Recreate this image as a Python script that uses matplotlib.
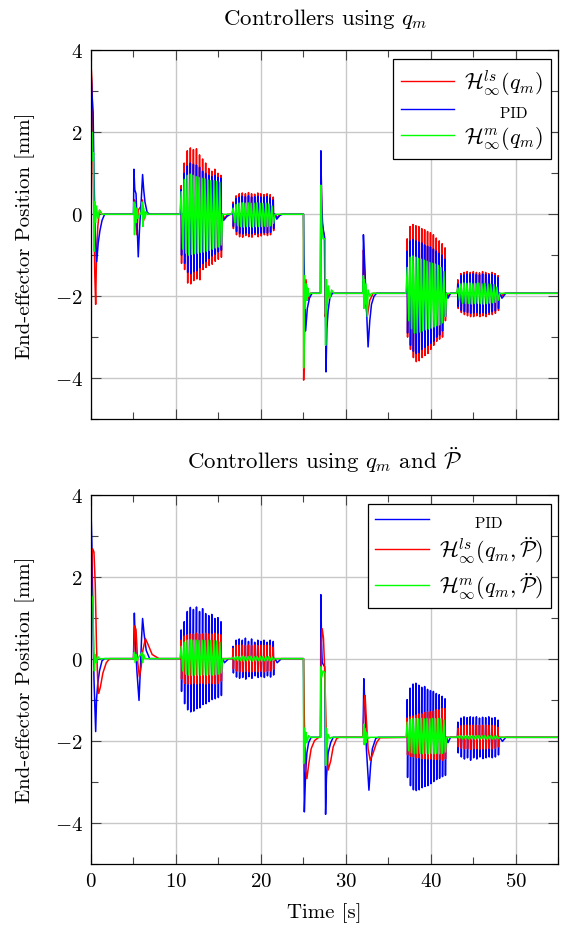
"""
Reproduction of the end-effector position comparison (two panels).
Values read by eye from the reference figure.
"""

import numpy as np
import matplotlib
matplotlib.use("Agg")
import matplotlib.pyplot as plt
from matplotlib.ticker import MultipleLocator

plt.rcParams["font.family"] = "serif"
plt.rcParams["font.serif"] = ["cmr10", "DejaVu Serif"]
plt.rcParams["mathtext.fontset"] = "cm"
plt.rcParams["axes.formatter.use_mathtext"] = True
plt.rcParams["axes.unicode_minus"] = True

# ---------------------------------------------------------------- data
# oscillation bursts : time windows (s) and offset level (mm)
BURST_T = [(10.45, 15.5), (16.55, 21.65), (37.05, 41.85), (43.0, 48.1)]
TOP_BASE = [0.0, 0.0, -1.93, -1.93]
BOT_BASE = [0.0, 0.0, -1.92, -1.92]

# ---- top panel : controllers using q_m
TOP_RED_PTS = [
    (0, 0), (0.03, 3.55), (0.12, 3.2), (0.2, 2.0), (0.3, 0.5), (0.45, -1.5),
    (0.55, -2.2), (0.65, -1.0), (0.8, -0.3), (1.0, 0.1), (1.3, 0.0),
    (5.05, 0), (5.12, 0.35), (5.25, -0.2), (5.4, -0.5), (5.55, 0.1),
    (5.9, 0.2), (6.05, 0.35), (6.2, -0.15), (6.4, 0.05), (6.7, 0),
    (15.7, -0.1), (16.1, 0), (21.9, -0.08), (22.3, 0),
    (25.0, 0), (25.02, -4.05), (25.15, -2.5), (25.3, -1.6), (25.5, -2.1),
    (25.8, -1.93), (27.0, -1.93), (27.05, 1.3), (27.15, 0.2), (27.3, -0.4),
    (27.45, -0.5), (27.55, -2.5), (27.7, -2.3), (27.9, -1.95), (28.2, -1.93),
    (32.0, -1.93), (32.05, -0.88), (32.2, -1.4), (32.35, -2.2), (32.5, -2.5),
    (32.8, -2.1), (33.2, -1.93),
    (42.0, -2.0), (42.3, -1.93), (48.3, -2.0), (48.6, -1.93), (55, -1.93),
]
TOP_RED_BURSTS = [
    ([0.70, 1.25, 1.55, 1.62, 1.58, 1.60, 1.45, 1.35, 1.25, 1.12, 1.05, 1.10, 1.00, 0.95],
     [-1.20, -1.35, -1.68, -1.70, -1.62, -1.58, -1.60, -1.35, -1.30, -1.25, -1.22, -1.15, -1.10, -1.05]),
    ([0.30, 0.45, 0.50, 0.52, 0.50, 0.53, 0.50, 0.49, 0.52, 0.50, 0.48, 0.50, 0.48, 0.42],
     [-0.35, -0.50, -0.55, -0.56, -0.52, -0.55, -0.56, -0.50, -0.55, -0.53, -0.50, -0.52, -0.50, -0.40]),
    ([-0.60, -0.30, -0.25, -0.28, -0.30, -0.35, -0.38, -0.42, -0.45, -0.50, -0.58, -0.65, -0.72, -0.82],
     [-3.00, -3.30, -3.50, -3.60, -3.58, -3.50, -3.45, -3.40, -3.30, -3.20, -3.10, -3.05, -3.00, -2.60]),
    ([-1.60, -1.45, -1.42, -1.40, -1.42, -1.40, -1.42, -1.43, -1.40, -1.42, -1.45, -1.42, -1.45, -1.50],
     [-2.30, -2.40, -2.45, -2.48, -2.50, -2.50, -2.48, -2.50, -2.48, -2.50, -2.45, -2.45, -2.42, -2.35]),
]

TOP_BLUE_PTS = [
    (0, 0), (0.03, 3.35), (0.1, 3.0), (0.25, 2.5), (0.35, 1.0), (0.5, -0.5),
    (0.67, -1.16), (0.85, -0.7), (1.05, -0.4), (1.3, -0.15), (1.6, 0),
    (5.0, 0), (5.05, 1.1), (5.15, 0.6), (5.3, 0.5), (5.45, -0.4), (5.56, -1.04),
    (5.7, -0.4), (5.9, 0.3), (6.07, 0.97), (6.2, 0.6), (6.35, 0.3), (6.6, 0.05),
    (6.9, 0),
    (15.6, -0.15), (16.0, -0.05), (16.4, 0), (21.85, -0.12), (22.2, -0.03),
    (22.5, 0),
    (25.0, 0), (25.05, -1.0), (25.25, -2.85), (25.45, -2.3), (25.7, -2.05),
    (26.0, -1.93), (27.0, -1.93), (27.05, 1.55), (27.12, 0.5), (27.2, -0.2),
    (27.5, -0.6), (27.65, -3.85), (27.75, -2.8), (27.9, -2.35), (28.1, -2.05),
    (28.4, -1.93),
    (32.0, -1.93), (32.05, -0.5), (32.2, -1.2), (32.35, -2.0), (32.6, -3.24),
    (32.8, -2.6), (33.0, -2.2), (33.3, -2.0), (33.6, -1.93),
    (42.0, -2.05), (42.3, -1.93), (48.35, -2.05), (48.8, -1.93), (55, -1.93),
]
TOP_BLUE_BURSTS = [
    ([0.60, 1.00, 1.18, 1.25, 1.22, 1.20, 1.15, 1.05, 1.00, 0.95, 0.92, 0.95, 0.90, 0.88],
     [-1.00, -1.20, -1.42, -1.45, -1.40, -1.38, -1.30, -1.20, -1.15, -1.08, -1.02, -0.98, -0.92, -0.88]),
    ([0.25, 0.38, 0.42, 0.44, 0.43, 0.45, 0.42, 0.43, 0.44, 0.42, 0.42, 0.43, 0.40, 0.35],
     [-0.30, -0.42, -0.47, -0.48, -0.46, -0.47, -0.48, -0.45, -0.47, -0.46, -0.45, -0.46, -0.44, -0.35]),
    ([-0.90, -0.65, -0.62, -0.65, -0.68, -0.70, -0.75, -0.78, -0.80, -0.85, -0.90, -0.95, -1.00, -1.10],
     [-2.90, -3.20, -3.35, -3.40, -3.38, -3.30, -3.25, -3.20, -3.15, -3.10, -3.00, -2.95, -2.85, -2.50]),
    ([-1.70, -1.50, -1.48, -1.46, -1.47, -1.45, -1.47, -1.48, -1.46, -1.47, -1.48, -1.47, -1.50, -1.55],
     [-2.25, -2.35, -2.38, -2.40, -2.42, -2.41, -2.40, -2.42, -2.40, -2.42, -2.40, -2.38, -2.36, -2.30]),
]

TOP_GREEN_PTS = [
    (0, 0), (0.02, 2.6), (0.08, 1.4), (0.15, 2.0), (0.22, 1.3), (0.3, 1.5),
    (0.38, -0.9), (0.45, 0.3), (0.55, -0.2), (0.65, 0.2), (0.8, -0.1),
    (1.0, 0.1), (1.3, 0),
    (5.0, 0), (5.05, 0.3), (5.12, -0.5), (5.2, 0.25), (5.3, -0.2), (5.4, 0.15),
    (5.5, -0.1), (5.9, 0.05), (6.0, 0.3), (6.1, -0.3), (6.2, 0.15),
    (6.35, -0.1), (6.5, 0.05), (6.7, 0),
    (25.0, 0), (25.02, -3.75), (25.1, -1.5), (25.2, -2.3), (25.3, -1.7),
    (25.4, -2.1), (25.5, -1.8), (25.6, -2.0), (25.8, -1.93), (27.0, -1.93),
    (27.05, 0.71), (27.15, -0.3), (27.3, -0.6), (27.55, -0.6), (27.6, -3.2),
    (27.7, -1.6), (27.8, -2.2), (27.95, -1.75), (28.1, -2.05), (28.3, -1.85),
    (28.6, -1.93),
    (32.0, -1.93), (32.05, -1.5), (32.1, -2.3), (32.15, -1.6), (32.25, -2.2),
    (32.35, -1.7), (32.5, -2.5), (32.6, -1.85), (32.8, -2.0), (33.0, -1.93),
    (55, -1.93),
]
TOP_GREEN_BURSTS = [
    ([0.55, 0.85, 0.95, 0.98, 0.95, 0.92, 0.90, 0.88, 0.86, 0.84, 0.82, 0.82, 0.80, 0.78],
     [-0.85, -0.95, -1.00, -0.98, -0.96, -0.95, -0.93, -0.92, -0.90, -0.88, -0.85, -0.82, -0.80, -0.75]),
    ([0.15, 0.24, 0.27, 0.28, 0.27, 0.28, 0.27, 0.27, 0.28, 0.27, 0.26, 0.27, 0.25, 0.20],
     [-0.20, -0.28, -0.30, -0.31, -0.30, -0.30, -0.31, -0.30, -0.30, -0.30, -0.29, -0.30, -0.28, -0.22]),
    ([-1.30, -1.05, -1.02, -1.05, -1.08, -1.10, -1.12, -1.15, -1.18, -1.20, -1.22, -1.25, -1.30, -1.40],
     [-2.60, -2.80, -2.90, -2.90, -2.88, -2.85, -2.82, -2.80, -2.78, -2.75, -2.72, -2.70, -2.65, -2.50]),
    ([-1.80, -1.70, -1.68, -1.69, -1.68, -1.70, -1.69, -1.68, -1.70, -1.69, -1.70, -1.71, -1.72, -1.78],
     [-2.10, -2.17, -2.18, -2.18, -2.19, -2.18, -2.17, -2.18, -2.19, -2.18, -2.17, -2.16, -2.15, -2.10]),
]

# ---- bottom panel : controllers using q_m and P''
BOT_BLUE_PTS = [
    (0, 0), (0.03, 3.37), (0.1, 2.8), (0.2, 1.5), (0.35, -0.5), (0.55, -1.78),
    (0.65, -1.0), (0.8, -0.6), (1.0, -0.3), (1.3, -0.05), (1.6, 0),
    (5.0, 0), (5.1, 1.11), (5.2, 0.5), (5.4, -0.3), (5.65, -1.02), (5.8, -0.3),
    (5.95, 0.5), (6.07, 0.98), (6.25, 0.6), (6.5, 0.2), (6.9, 0),
    (15.7, -0.1), (16.2, 0), (21.9, -0.1), (22.4, 0),
    (25.0, 0), (25.02, -1.0), (25.1, -3.74), (25.25, -2.8), (25.4, -2.3),
    (25.6, -2.05), (25.9, -1.92), (27.0, -1.92), (27.05, 1.56), (27.12, 0.4),
    (27.2, -0.1), (27.5, -0.2), (27.6, -3.8), (27.7, -2.9), (27.9, -2.3),
    (28.2, -2.05), (28.5, -1.92),
    (32.0, -1.92), (32.1, -0.49), (32.2, -1.0), (32.4, -2.2), (32.7, -3.21),
    (32.9, -2.6), (33.1, -2.2), (33.5, -1.95), (33.8, -1.92),
    (42.0, -2.05), (42.3, -1.92), (48.4, -2.02), (48.8, -1.92), (55, -1.92),
]
BOT_BLUE_BURSTS = [
    ([0.70, 0.90, 1.15, 1.25, 1.20, 1.26, 1.15, 1.22, 1.10, 1.05, 1.08, 0.98, 1.00, 0.90],
     [-0.80, -1.10, -1.25, -1.30, -1.28, -1.22, -1.20, -1.12, -1.10, -1.05, -1.00, -0.98, -0.95, -0.90]),
    ([0.30, 0.45, 0.48, 0.45, 0.50, 0.42, 0.48, 0.40, 0.45, 0.42, 0.45, 0.40, 0.45, 0.42],
     [-0.35, -0.45, -0.48, -0.46, -0.50, -0.44, -0.48, -0.42, -0.46, -0.44, -0.46, -0.42, -0.45, -0.40]),
    ([-1.00, -0.72, -0.62, -0.60, -0.65, -0.70, -0.68, -0.75, -0.78, -0.80, -0.85, -0.88, -0.92, -0.98],
     [-2.90, -3.10, -3.20, -3.22, -3.20, -3.15, -3.12, -3.10, -3.05, -3.00, -2.95, -2.92, -2.88, -2.85]),
    ([-1.55, -1.45, -1.42, -1.44, -1.42, -1.43, -1.42, -1.45, -1.43, -1.44, -1.42, -1.45, -1.44, -1.50],
     [-2.30, -2.40, -2.45, -2.42, -2.48, -2.42, -2.45, -2.40, -2.44, -2.42, -2.40, -2.42, -2.40, -2.35]),
]

BOT_RED_PTS = [
    (0, 0), (0.05, 1.5), (0.12, 2.5), (0.2, 2.68), (0.35, 2.6), (0.5, 1.8),
    (0.65, 0.3), (0.8, -0.6), (0.9, -0.85), (1.1, -0.7), (1.4, -0.35),
    (1.8, -0.1), (2.2, 0),
    (5.0, 0), (5.15, 0.8), (5.3, 0.7), (5.5, -0.1), (5.7, -0.45), (5.9, -0.2),
    (6.1, 0.2), (6.4, 0.49), (6.7, 0.35), (7.2, 0.1), (8.0, 0),
    (25.0, 0), (25.1, -1.5), (25.25, -2.7), (25.4, -2.93), (25.6, -2.6),
    (25.9, -2.2), (26.3, -2.0), (26.8, -1.92), (27.0, -1.92), (27.1, 0.4),
    (27.2, 0.73), (27.35, 0.5), (27.5, -0.3), (27.7, -2.0), (27.9, -2.72),
    (28.2, -2.5), (28.5, -2.15), (28.9, -1.95), (29.2, -1.92),
    (32.0, -1.92), (32.15, -1.0), (32.25, -0.9), (32.4, -1.5), (32.6, -2.2),
    (32.85, -2.48), (33.2, -2.3), (33.6, -2.05), (34.0, -1.93), (55, -1.92),
]
BOT_RED_BURSTS = [
    ([0.45, 0.55, 0.58, 0.60, 0.60, 0.62, 0.60, 0.60, 0.62, 0.60, 0.60, 0.62, 0.60, 0.58],
     [-0.50, -0.60, -0.62, -0.62, -0.60, -0.62, -0.60, -0.60, -0.62, -0.60, -0.60, -0.62, -0.60, -0.55]),
    ([0.25, 0.32, 0.33, 0.33, 0.32, 0.33, 0.32, 0.33, 0.32, 0.33, 0.32, 0.33, 0.32, 0.28],
     [-0.25, -0.30, -0.32, -0.32, -0.31, -0.32, -0.32, -0.31, -0.32, -0.31, -0.32, -0.31, -0.30, -0.26]),
    ([-1.45, -1.42, -1.40, -1.38, -1.35, -1.35, -1.32, -1.30, -1.30, -1.28, -1.25, -1.25, -1.22, -1.22],
     [-2.35, -2.38, -2.40, -2.42, -2.42, -2.44, -2.44, -2.45, -2.45, -2.46, -2.46, -2.46, -2.48, -2.45]),
    ([-1.70, -1.64, -1.63, -1.62, -1.63, -1.62, -1.63, -1.62, -1.63, -1.62, -1.63, -1.63, -1.64, -1.68],
     [-2.15, -2.19, -2.20, -2.20, -2.21, -2.20, -2.20, -2.21, -2.20, -2.20, -2.19, -2.20, -2.19, -2.15]),
]

BOT_GREEN_PTS = [
    (0, 0), (0.03, 1.8), (0.1, 1.4), (0.2, 1.5), (0.3, 0.5), (0.4, -0.3),
    (0.5, 0.1), (0.6, -0.1), (0.8, 0.05), (1.0, 0),
    (5.0, 0), (5.1, 0.15), (5.2, -0.1), (5.3, 0.1), (5.4, -0.05), (5.5, 0),
    (6.0, 0.15), (6.1, -0.1), (6.2, 0.1), (6.35, 0),
    (25.0, 0), (25.02, -2.56), (25.1, -1.7), (25.2, -2.15), (25.3, -1.8),
    (25.4, -2.05), (25.6, -1.88), (25.8, -1.92), (27.0, -1.92), (27.05, -0.2),
    (27.15, -0.45), (27.3, -0.3), (27.55, -0.35), (27.6, -2.6), (27.7, -1.7),
    (27.8, -2.1), (27.9, -1.85), (28.1, -1.95), (28.3, -1.92),
    (32.0, -1.92), (32.1, -1.6), (32.15, -2.1), (32.25, -1.7), (32.35, -2.05),
    (32.45, -1.8), (32.6, -1.95), (32.8, -1.92), (55, -1.92),
]
BOT_GREEN_BURSTS = [
    ([0.30, 0.40, 0.45, 0.46, 0.45, 0.45, 0.44, 0.45, 0.44, 0.45, 0.44, 0.44, 0.43, 0.40],
     [-0.30, -0.38, -0.40, -0.41, -0.40, -0.40, -0.40, -0.39, -0.40, -0.39, -0.40, -0.39, -0.38, -0.35]),
    ([0.03, 0.05, 0.05, 0.06, 0.05, 0.05, 0.06, 0.05, 0.05, 0.06, 0.05, 0.05, 0.05, 0.04],
     [-0.03, -0.05, -0.05, -0.06, -0.05, -0.05, -0.06, -0.05, -0.05, -0.06, -0.05, -0.05, -0.05, -0.04]),
    ([-1.55, -1.48, -1.46, -1.46, -1.47, -1.46, -1.47, -1.46, -1.47, -1.46, -1.47, -1.46, -1.47, -1.50],
     [-2.25, -2.30, -2.32, -2.32, -2.31, -2.32, -2.31, -2.32, -2.31, -2.32, -2.31, -2.32, -2.31, -2.28]),
    ([-1.89, -1.88, -1.88, -1.88, -1.88, -1.88, -1.88, -1.88, -1.88, -1.88, -1.88, -1.88, -1.88, -1.89],
     [-1.95, -1.96, -1.96, -1.96, -1.96, -1.96, -1.96, -1.96, -1.96, -1.96, -1.96, -1.96, -1.96, -1.95]),
]

LBL_TOP = [r"$\mathcal{H}_\infty^{ls}(q_m)$", "PID", r"$\mathcal{H}_\infty^{m}(q_m)$"]
LBL_BOT = ["PID", r"$\mathcal{H}_\infty^{ls}(q_m,\ddot{\mathcal{P}})$",
           r"$\mathcal{H}_\infty^{m}(q_m,\ddot{\mathcal{P}})$"]

ROUGE, BLEU, VERT = "#ff0000", "#0000ff", "#00ff00"
FS = 15       # ticks, axis labels
FS_TITRE = 16.5
FS_LEG = 16
LW = 1.1
DEMI_BARRE = 0.07   # s, half width of one oscillation stroke (red / blue)


def serie(points, bursts, bases, barres):
    """Assemble a trace: sampled points + oscillation peaks of each burst.

    barres=True : each cycle drawn as a narrow up/down stroke back to the
    offset (red and blue look like separate bars on the reference),
    otherwise a plain zigzag (green is almost solid).
    """
    t = [p[0] for p in points]
    v = [p[1] for p in points]
    for (t0, t1), base, (hauts, bas) in zip(BURST_T, bases, bursts):
        n = len(hauts)
        if barres:
            pas = (t1 - t0) / n
            t += [t0, t1]
            v += [base, base]
            for k in range(n):
                tc = t0 + (k + 0.5) * pas
                t += [tc - DEMI_BARRE, tc - DEMI_BARRE / 3,
                      tc + DEMI_BARRE / 3, tc + DEMI_BARRE]
                v += [base, hauts[k], bas[k], base]
        else:
            tt = np.linspace(t0, t1, 2 * n + 2)
            vv = [base] + [x for paire in zip(hauts, bas) for x in paire] + [base]
            t += list(tt)
            v += vv
    ordre = np.argsort(t, kind="stable")
    return np.array(t)[ordre], np.array(v)[ordre]


def habiller(ax, titre):
    ax.set_xlim(0, 55)
    ax.set_ylim(-5, 4)
    ax.xaxis.set_major_locator(MultipleLocator(10))
    ax.xaxis.set_minor_locator(MultipleLocator(5))
    ax.yaxis.set_major_locator(MultipleLocator(2))
    ax.yaxis.set_minor_locator(MultipleLocator(1))
    ax.tick_params(which="both", direction="in", top=True, right=True,
                   labelsize=FS, width=0.8, color="#444444", pad=6)
    ax.tick_params(which="major", length=7)
    ax.tick_params(which="minor", length=5)
    ax.grid(True, which="major", color="#c8c8c8", linewidth=1.0)
    ax.set_axisbelow(True)
    for s in ax.spines.values():
        s.set_linewidth(0.9)
    ax.set_title(titre, fontsize=FS_TITRE, pad=19)
    ax.set_ylabel("End-effector Position [mm]", fontsize=FS)
    ax.yaxis.set_label_coords(-0.12, 0.5)


fig = plt.figure(figsize=(5.61, 9.29), dpi=100)
ax1 = fig.add_axes([0.1622, 0.5479, 0.8333, 0.3967])
ax2 = fig.add_axes([0.1622, 0.0694, 0.8333, 0.3970])

# top panel
for pts, bur, col, lab in [(TOP_RED_PTS, TOP_RED_BURSTS, ROUGE, LBL_TOP[0]),
                           (TOP_BLUE_PTS, TOP_BLUE_BURSTS, BLEU, LBL_TOP[1]),
                           (TOP_GREEN_PTS, TOP_GREEN_BURSTS, VERT, LBL_TOP[2])]:
    t, v = serie(pts, bur, TOP_BASE, barres=(col != VERT))
    ax1.plot(t, v, color=col, lw=LW, label=lab)
habiller(ax1, r"Controllers using $q_m$")
ax1.tick_params(labelbottom=False)

# bottom panel
for pts, bur, col, lab in [(BOT_BLUE_PTS, BOT_BLUE_BURSTS, BLEU, LBL_BOT[0]),
                           (BOT_RED_PTS, BOT_RED_BURSTS, ROUGE, LBL_BOT[1]),
                           (BOT_GREEN_PTS, BOT_GREEN_BURSTS, VERT, LBL_BOT[2])]:
    t, v = serie(pts, bur, BOT_BASE, barres=(col != VERT))
    ax2.plot(t, v, color=col, lw=LW, label=lab)
habiller(ax2, r"Controllers using $q_m$ and $\ddot{\mathcal{P}}$")
ax2.set_xlabel("Time [s]", fontsize=FS)
ax2.xaxis.set_label_coords(0.5, -0.105)

for ax, idx_pid in [(ax1, 1), (ax2, 0)]:
    leg = ax.legend(loc="upper right", bbox_to_anchor=(0.9835, 0.976),
                    fontsize=FS_LEG, frameon=True, fancybox=False,
                    framealpha=1, edgecolor="black", handlelength=2.4,
                    borderpad=0.35, labelspacing=0.2, handletextpad=0.45,
                    borderaxespad=0)
    leg.get_frame().set_linewidth(0.9)
    for h in leg.get_lines():
        h.set_linewidth(1.0)
    pid = leg.get_texts()[idx_pid]
    pid.set_fontsize(11)
    pid.set_text("       PID")

fig.savefig("out.png", dpi=100)
